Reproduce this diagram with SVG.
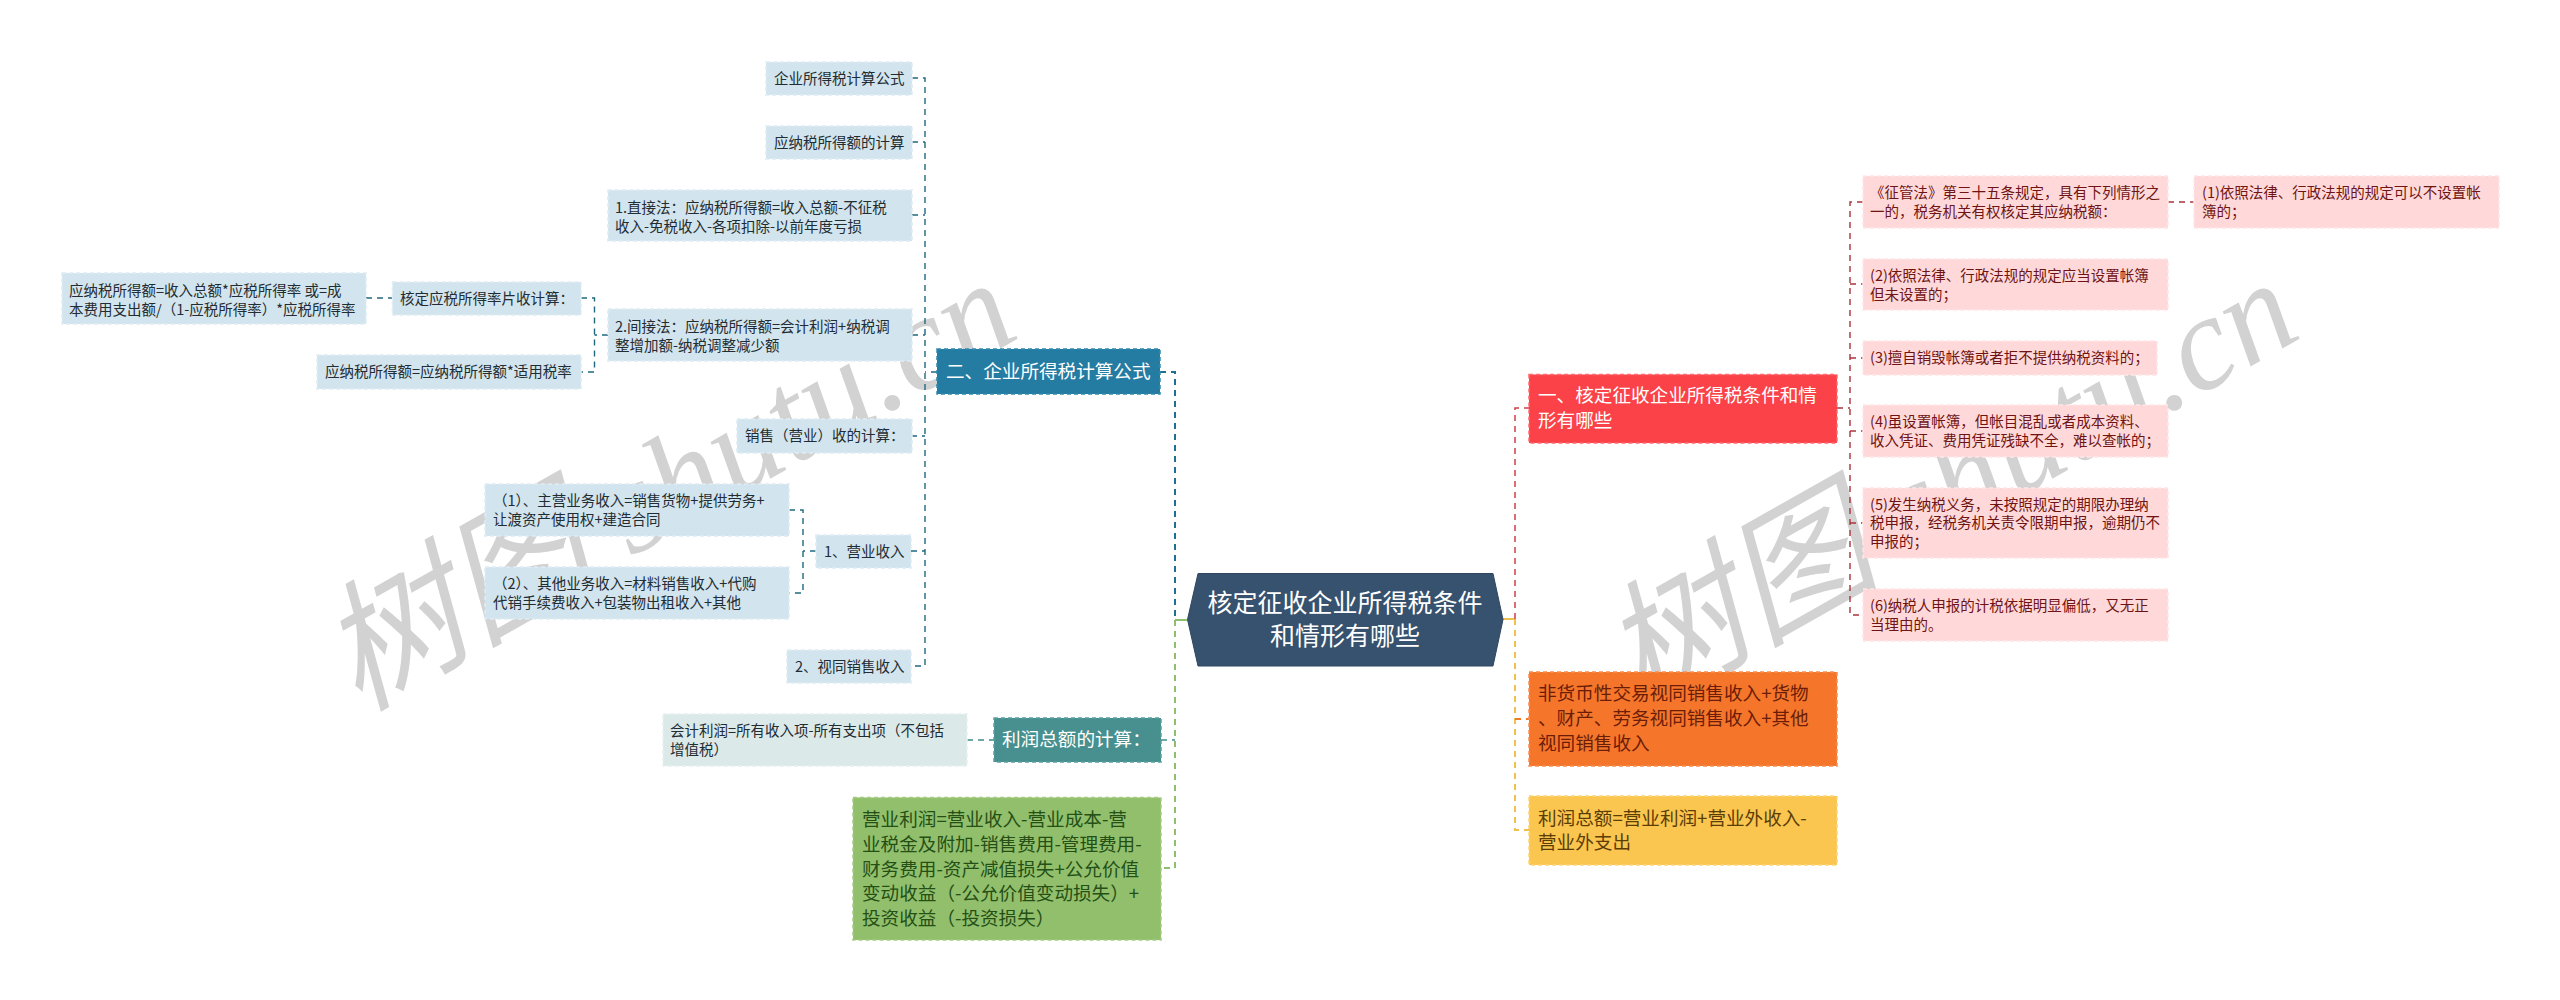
<svg xmlns="http://www.w3.org/2000/svg" width="2560" height="1000" viewBox="0 0 2560 1000">
<style>
text{font-family:"Noto Sans CJK SC","Noto Sans",sans-serif}
.box{stroke-width:1.5;stroke-dasharray:4 3}
.s{font-size:14.5px}.b{font-size:18.6px}
.lb rect{fill:#d2e4ed;stroke:#dfecf3}.lb text{fill:#222c33}
.lg rect{fill:#dce9e9;stroke:#e8f1f1}.lg text{fill:#222c33}
.pk rect{fill:#ffd9d9;stroke:#ffe6e6}.pk text{fill:#6e1414}
.c{fill:none;stroke-width:1.5;stroke-dasharray:6 5}
.blue{stroke:#1f6f93;stroke-width:2}.dk{stroke:#1f6a80;stroke-width:1.4}.green{stroke:#8fbf6c;stroke-width:2}.red{stroke:#cf3f46}.pkl{stroke:#a8343b;stroke-width:1.4}.yel{stroke:#f0c04f;stroke-width:2}.org{stroke:#f07a2c;stroke-width:2}.teal{stroke:#3f8a8c}
.wm{font-family:"Liberation Serif","Noto Sans CJK SC",serif;font-style:italic;font-size:134px;fill:#d2d2d2}
.wm .cj{font-size:140px}
</style>
<text class="wm" transform="translate(358 712) rotate(-29.500)"><tspan class="cj">树图</tspan> shutu.cn</text>
<text class="wm" transform="translate(1640 712) rotate(-29.500)"><tspan class="cj">树图</tspan> shutu.cn</text>
<g id="connectors">
<path class="c blue" d="M1160 372H1175V620"/>
<path class="c green" style="stroke-dasharray:none" d="M1175 620H1187"/>
<path class="c green" d="M1175 620V868H1161"/>
<path class="c teal" d="M1161 740H1175"/>
<path class="c dk" d="M937 372H925M912 78H925V666H911M912 142H925M912 215H925M912 335H925M911 436H925M911 551H925"/>
<path class="c dk" d="M608 335H594.500M581 298H594.500V372H581M366 298H392"/>
<path class="c dk" d="M816 551H803M789 510H803V593H789"/>
<path class="c teal" d="M967 740H994"/>
<path class="c yel" style="stroke-dasharray:none" d="M1503 619H1515"/>
<path class="c red" d="M1515 619V408H1529"/>
<path class="c yel" d="M1515 619V830H1529"/>
<path class="c org" d="M1515 719H1529"/>
<path class="c pkl" d="M1837 408H1850M1863 202H1850V615H1863M1850 284H1863M1850 358H1863M1850 431H1863M1850 523H1863M2168 202H2194"/>
</g>
<g id="root"><path d="M1198 573.500H1493L1503 619.500L1493 666H1198L1187.500 619.500Z" fill="#37526e" stroke="#2e4660"/><text x="1345" y="611.500" text-anchor="middle" font-size="25" fill="#fff">核定征收企业所得税条件</text><text x="1345" y="644.500" text-anchor="middle" font-size="25" fill="#fff">和情形有哪些</text></g>

<g id="n-er"><rect class="box" x="937" y="349" width="223" height="45" fill="#257ca3" stroke="#2f89b0"/><text class="b" x="946" y="378" fill="#fff">二、企业所得税计算公式</text></g>
<g id="n-gs" class="lb"><rect class="box" x="766" y="62" width="146" height="33"/><text class="s" x="774" y="84">企业所得税计算公式</text></g>
<g id="n-yn" class="lb"><rect class="box" x="766" y="126" width="146" height="33"/><text class="s" x="774" y="148">应纳税所得额的计算</text></g>
<g id="n-zj" class="lb"><rect class="box" x="608" y="190" width="304" height="51"/><text class="s" x="615" y="213">1.直接法：应纳税所得额=收入总额-不征税</text><text class="s" x="615" y="232">收入-免税收入-各项扣除-以前年度亏损</text></g>
<g id="n-jj" class="lb"><rect class="box" x="608" y="309" width="304" height="52"/><text class="s" x="615" y="332">2.间接法：应纳税所得额=会计利润+纳税调</text><text class="s" x="615" y="351">整增加额-纳税调整减少额</text></g>
<g id="n-hd" class="lb"><rect class="box" x="392.500" y="282" width="188.500" height="33"/><text class="s" x="400" y="304">核定应税所得率片收计算：</text></g>
<g id="n-sr" class="lb"><rect class="box" x="62" y="273" width="304" height="51"/><text class="s" x="69" y="296">应纳税所得额=收入总额*应税所得率 或=成</text><text class="s" x="69" y="315">本费用支出额/（1-应税所得率）*应税所得率</text></g>
<g id="n-sl" class="lb"><rect class="box" x="317" y="355" width="264" height="34"/><text class="s" x="325" y="377">应纳税所得额=应纳税所得额*适用税率</text></g>
<g id="n-xs" class="lb"><rect class="box" x="737" y="419" width="175" height="34"/><text class="s" x="745" y="441">销售（营业）收的计算：</text></g>
<g id="n-yy" class="lb"><rect class="box" x="816" y="535" width="95" height="33"/><text class="s" x="824" y="557">1、营业收入</text></g>
<g id="n-z1" class="lb"><rect class="box" x="485" y="484" width="304" height="52"/><text class="s" x="493" y="506">（1）、主营业务收入=销售货物+提供劳务+</text><text class="s" x="493" y="525">让渡资产使用权+建造合同</text></g>
<g id="n-z2" class="lb"><rect class="box" x="485" y="567" width="304" height="52"/><text class="s" x="493" y="589">（2）、其他业务收入=材料销售收入+代购</text><text class="s" x="493" y="608">代销手续费收入+包装物出租收入+其他</text></g>
<g id="n-st" class="lb"><rect class="box" x="787" y="650" width="124" height="33"/><text class="s" x="795" y="672">2、视同销售收入</text></g>
<g id="n-kj" class="lg"><rect class="box" x="663" y="714" width="304" height="52"/><text class="s" x="670" y="736">会计利润=所有收入项-所有支出项（不包括</text><text class="s" x="670" y="755">增值税）</text></g>
<g id="n-lr"><rect class="box" x="994" y="718" width="167" height="44" fill="#47908f" stroke="#5aa09f"/><text class="b" x="1002" y="746" fill="#fff">利润总额的计算：</text></g>
<g id="n-yl"><rect class="box" x="853" y="797.500" width="308" height="142.500" fill="#92bf6c" stroke="#a3cc80"/><text class="b" x="862" y="826" fill="#245016">营业利润=营业收入-营业成本-营</text><text class="b" x="862" y="851" fill="#245016">业税金及附加-销售费用-管理费用-</text><text class="b" x="862" y="876" fill="#245016">财务费用-资产减值损失+公允价值</text><text class="b" x="862" y="900" fill="#245016">变动收益（-公允价值变动损失）+</text><text class="b" x="862" y="925" fill="#245016">投资收益（-投资损失）</text></g>

<g id="n-yi"><rect class="box" x="1529" y="374.500" width="308" height="68.500" fill="#fb4248" stroke="#ff6a6e"/><text class="b" x="1538" y="402" fill="#fff">一、核定征收企业所得税条件和情</text><text class="b" x="1538" y="427" fill="#fff">形有哪些</text></g>
<g id="n-fh"><rect class="box" x="1529" y="672" width="308" height="94" fill="#f5762b" stroke="#f98f4f"/><text class="b" x="1538" y="700" fill="#6b1d08">非货币性交易视同销售收入+货物</text><text class="b" x="1538" y="725" fill="#6b1d08">、财产、劳务视同销售收入+其他</text><text class="b" x="1538" y="750" fill="#6b1d08">视同销售收入</text></g>
<g id="n-ze"><rect class="box" x="1529" y="796" width="308" height="69" fill="#fbc64f" stroke="#fdd578"/><text class="b" x="1538" y="825" fill="#5c3d06">利润总额=营业利润+营业外收入-</text><text class="b" x="1538" y="849" fill="#5c3d06">营业外支出</text></g>
<g id="n-zg" class="pk"><rect class="box" x="1863" y="176" width="305" height="52"/><text class="s" x="1870" y="198">《征管法》第三十五条规定，具有下列情形之</text><text class="s" x="1870" y="217">一的，税务机关有权核定其应纳税额：</text></g>
<g id="n-p1" class="pk"><rect class="box" x="2194" y="176" width="305" height="52"/><text class="s" x="2202" y="198">(1)依照法律、行政法规的规定可以不设置帐</text><text class="s" x="2202" y="217">簿的；</text></g>
<g id="n-p2" class="pk"><rect class="box" x="1863" y="259" width="305" height="51"/><text class="s" x="1870" y="281">(2)依照法律、行政法规的规定应当设置帐簿</text><text class="s" x="1870" y="300">但未设置的；</text></g>
<g id="n-p3" class="pk"><rect class="box" x="1863" y="341" width="294" height="34"/><text class="s" x="1870" y="363">(3)擅自销毁帐簿或者拒不提供纳税资料的；</text></g>
<g id="n-p4" class="pk"><rect class="box" x="1863" y="405" width="305" height="52"/><text class="s" x="1870" y="427">(4)虽设置帐簿，但帐目混乱或者成本资料、</text><text class="s" x="1870" y="446">收入凭证、费用凭证残缺不全，难以查帐的；</text></g>
<g id="n-p5" class="pk"><rect class="box" x="1863" y="488" width="305" height="70"/><text class="s" x="1870" y="510">(5)发生纳税义务，未按照规定的期限办理纳</text><text class="s" x="1870" y="528">税申报，经税务机关责令限期申报，逾期仍不</text><text class="s" x="1870" y="547">申报的；</text></g>
<g id="n-p6" class="pk"><rect class="box" x="1863" y="589" width="305" height="52"/><text class="s" x="1870" y="611">(6)纳税人申报的计税依据明显偏低，又无正</text><text class="s" x="1870" y="630">当理由的。</text></g>
</svg>
